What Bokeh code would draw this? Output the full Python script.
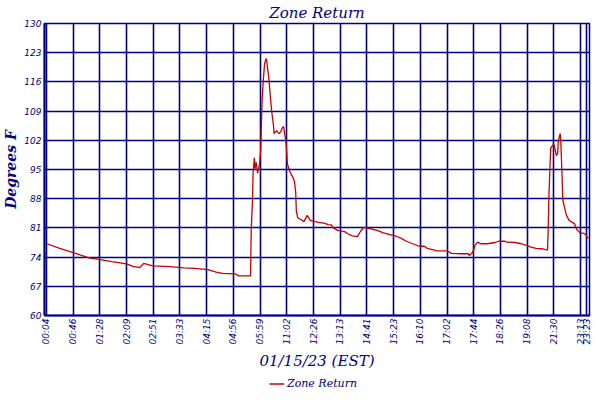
from bokeh.plotting import figure
from bokeh.models import Range1d, FixedTicker, Legend, LegendItem, ColumnDataSource
from bokeh.layouts import column
from bokeh.embed import file_html
from bokeh.resources import INLINE
import math

# sample index and Zone Return temperature (deg F)
sample_idx = [1, 21, 42, 67, 85, 103, 126, 136, 147, 153, 167, 195, 216, 233, 254, 267, 277, 297,
              302, 321, 322, 324, 325, 327, 328, 330, 332, 335, 337, 338, 339, 341, 343, 345, 346,
              347, 350, 353, 355, 357, 358, 360, 362, 364, 366, 369, 371, 373, 374, 377, 379, 383,
              387, 390, 392, 393, 395, 400, 405, 410, 415, 420, 428, 438, 443, 448, 451, 458, 469,
              474, 481, 489, 494, 499, 509, 520, 530, 540, 550, 558, 566, 576, 586, 594, 599, 607,
              614, 630, 637, 653, 663, 665, 669, 672, 674, 678, 683, 693, 706, 711, 721, 724, 737,
              747, 755, 762, 770, 780, 788, 789, 790, 792, 793, 796, 798, 800, 802, 804, 805, 807,
              808, 809, 811, 812, 816, 818, 822, 826, 830, 834, 839, 845, 848, 852]
zone_return = [77.2, 76.1, 75.1, 73.8, 73.4, 72.9, 72.4, 71.8, 71.5, 72.5, 71.9, 71.7, 71.4, 71.3,
               71.0, 70.4, 70.1, 70.0, 69.5, 69.5, 80.2, 87.3, 94.1, 97.8, 95.2, 96.7, 94.1, 96.1,
               99.7, 105.3, 110.9, 116.2, 120.3, 121.4, 121.6, 120.3, 116.6, 110.9, 108.0, 105.7,
               103.6, 104.0, 104.3, 103.9, 103.6, 104.2, 105.0, 105.3, 104.2, 101.2, 96.3, 94.4,
               93.3, 92.2, 89.5, 85.1, 83.5, 83.0, 82.5, 84.0, 82.8, 82.6, 82.3, 82.1, 81.8, 81.7,
               81.0, 80.4, 80.1, 79.6, 79.1, 78.9, 80.2, 81.1, 80.8, 80.4, 79.8, 79.4, 79.0, 78.5,
               77.8, 77.2, 76.6, 76.6, 76.1, 75.8, 75.5, 75.5, 74.9, 74.8, 74.8, 74.4, 74.9, 75.8,
               76.8, 77.6, 77.2, 77.2, 77.5, 77.8, 77.8, 77.6, 77.5, 77.2, 76.8, 76.4, 76.1, 76.0,
               75.7, 80.2, 87.7, 96.3, 100.1, 100.8, 101.0, 99.7, 98.3, 98.9, 101.9, 103.1, 103.6,
               101.2, 92.9, 87.7, 85.1, 83.9, 82.8, 82.4, 82.1, 80.6, 79.8, 79.7, 79.4, 78.5]

x_tick_pos = [0, 42, 84, 126, 168, 210, 252, 294, 336, 378, 420, 462, 504, 546, 588, 630, 672,
              714, 756, 798, 840, 850]
x_tick_labels = ["00:04", "00:46", "01:28", "02:09", "02:51", "03:33", "04:15", "04:56", "05:59",
                 "11:02", "12:26", "13:13", "14:41", "15:23", "16:10", "17:02", "17:44", "18:26",
                 "19:08", "21:30", "23:13", "23:23"]
y_ticks = [60, 67, 74, 81, 88, 95, 102, 109, 116, 123, 130]

NAVY = "#000080"
RED = "#cc0000"

p = figure(frame_width=545, frame_height=292, output_backend="svg", toolbar_location=None,
           x_range=Range1d(-3, 854), y_range=Range1d(60, 130),
           title="Zone Return", x_axis_label="01/15/23 (EST)", y_axis_label="Degrees F",
           min_border_left=0, min_border_right=2, min_border_top=0, min_border_bottom=0)

p.title.align = "center"
p.title.text_font = "DejaVu Serif"
p.title.text_font_style = "italic"
p.title.text_font_size = "15px"
p.title.text_color = NAVY
p.title.standoff = 3

for ax in (p.xaxis[0], p.yaxis[0]):
    ax.axis_line_color = NAVY
    ax.axis_line_width = 2
    ax.major_tick_out = 0
    ax.major_tick_in = 0
    ax.minor_tick_line_color = None
    ax.major_label_text_font = "DejaVu Sans"
    ax.major_label_text_font_style = "italic"
    ax.major_label_text_font_size = "9px"
    ax.major_label_text_color = NAVY
    ax.axis_label_text_font = "DejaVu Serif"
    ax.axis_label_text_font_style = "italic"
    ax.axis_label_text_color = NAVY

p.xaxis.ticker = FixedTicker(ticks=x_tick_pos)
p.xaxis.major_label_overrides = {t: l for t, l in zip(x_tick_pos, x_tick_labels)}
p.xaxis.major_label_orientation = math.pi / 2
p.xaxis.major_label_standoff = 3
p.xaxis.axis_label_text_font_size = "15px"
p.xaxis.axis_label_standoff = 5

p.yaxis.ticker = FixedTicker(ticks=y_ticks)
p.yaxis.major_label_standoff = 3
p.yaxis.axis_label_text_font_size = "14px"
p.yaxis.axis_label_text_font_style = "bold italic"
p.yaxis.axis_label_standoff = 2

p.xgrid.grid_line_color = NAVY
p.xgrid.grid_line_width = 1.6
p.ygrid.grid_line_color = NAVY
p.ygrid.grid_line_width = 1.6
p.outline_line_color = NAVY
p.outline_line_width = 1.5

src = ColumnDataSource(dict(x=sample_idx, y=zone_return))
p.line("x", "y", source=src, line_color=RED, line_width=1.3)

# legend strip below the chart
leg = figure(width=584, height=20, output_backend="svg", toolbar_location=None,
             x_range=Range1d(0, 1), y_range=Range1d(0, 1),
             x_axis_type=None, y_axis_type=None,
             min_border_left=0, min_border_right=0, min_border_top=0, min_border_bottom=0)
leg.outline_line_color = None
leg.xgrid.visible = False
leg.ygrid.visible = False
lr = leg.line("x", "y", source=src, line_color=RED, line_width=1.3)
legend = Legend(items=[LegendItem(label="Zone Return", renderers=[lr])],
                location="center", orientation="horizontal",
                border_line_color=None, background_fill_alpha=0,
                label_text_font="DejaVu Serif", label_text_font_style="italic",
                label_text_font_size="11px", label_text_color=NAVY,
                glyph_width=15, glyph_height=10, padding=0, margin=0,
                label_standoff=3, label_height=12)
leg.add_layout(legend, "center")

layout = column(p, leg, spacing=0)
open("out.html", "w").write(file_html(layout, INLINE))
